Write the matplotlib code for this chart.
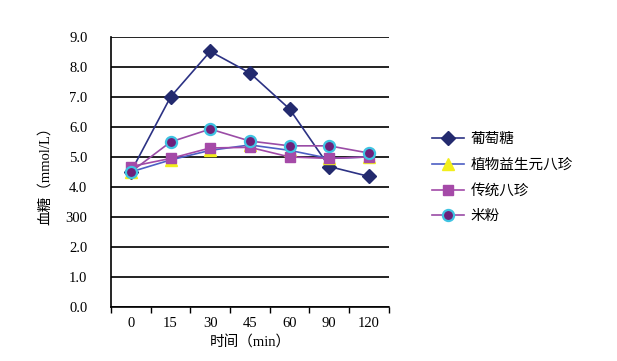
import matplotlib.pyplot as plt

plt.rcParams["font.family"] = ["Liberation Serif", "Noto Sans CJK SC"]

TIME_LABELS = ["0", "15", "30", "45", "60", "90", "120"]
Y_TICK_LABELS = ["0.0", "1.0", "2.0", "300", "4.0", "5.0", "6.0", "7.0", "8.0", "9.0"]

SERIES_NAMES = ["葡萄糖", "植物益生元八珍", "传统八珍", "米粉"]
GLUCOSE = [4.5, 7.0, 8.52, 7.8, 6.6, 4.68, 4.35]
PREBIOTIC = [4.5, 4.9, 5.22, 5.4, 5.22, 4.95, 5.0]
TRADITIONAL = [4.68, 4.95, 5.3, 5.32, 5.0, 4.95, 5.0]
RICE = [4.5, 5.5, 5.93, 5.53, 5.37, 5.37, 5.13]

STYLES = [
    dict(color="#2c3284", marker="D", markersize=7.5, markerfacecolor="#232a6e",
         markeredgecolor="#232a6e", zorder=3),
    dict(color="#4d5fc4", marker="^", markersize=9, markerfacecolor="#f2ee1c",
         markeredgecolor="#f2ee1c", zorder=4),
    dict(color="#a24aa8", marker="s", markersize=7.5, markerfacecolor="#a54aa8",
         markeredgecolor="#a54aa8", zorder=4),
    dict(color="#9a4ca6", marker="o", markersize=8, markerfacecolor="#6e1f7a",
         markeredgecolor="#3fc3e2", markeredgewidth=1.6, zorder=5),
]

fig = plt.figure(figsize=(6.17, 3.61), dpi=100)
ax = fig.add_axes([0.180, 0.150, 0.450, 0.7475])

x = list(range(len(TIME_LABELS)))
handles = []
for name, values, st in zip(SERIES_NAMES, [GLUCOSE, PREBIOTIC, TRADITIONAL, RICE], STYLES):
    (ln,) = ax.plot(x, values, linewidth=1.2, label=name, **st)
    handles.append(ln)

ax.set_xlim(-0.5, len(TIME_LABELS) - 0.5)
ax.set_ylim(0, 9)
ax.set_yticks(range(10))
ax.set_yticklabels(Y_TICK_LABELS, fontsize=10.5)
ax.set_xticks(x)
ax.set_xticklabels(TIME_LABELS, fontsize=10.5)
ax.tick_params(axis="x", which="major", length=0, pad=7)
ax.tick_params(axis="y", which="major", length=0, pad=17)
ax.set_xticks([i - 0.5 for i in range(len(TIME_LABELS) + 1)], minor=True)
ax.tick_params(axis="x", which="minor", length=4, width=1, color="black", direction="out")

ax.yaxis.grid(True, color="#111111", linewidth=1.3)
ax.set_axisbelow(True)
for side in ["top", "right"]:
    ax.spines[side].set_visible(False)
for side in ["left", "bottom"]:
    ax.spines[side].set_linewidth(1.2)

ax.set_xlabel("时间（min）", fontsize=10.5, labelpad=4)
ax.set_ylabel("血糖（mmol/L）", fontsize=10.5, labelpad=10)

ax.legend(handles=handles, loc="upper left", bbox_to_anchor=(1.11, 0.695), frameon=False,
          handlelength=2.2, labelspacing=0.8, handletextpad=0.4,
          prop={"family": ["Noto Sans CJK SC"], "size": 10.5})

fig.savefig("out.png", dpi=100)
